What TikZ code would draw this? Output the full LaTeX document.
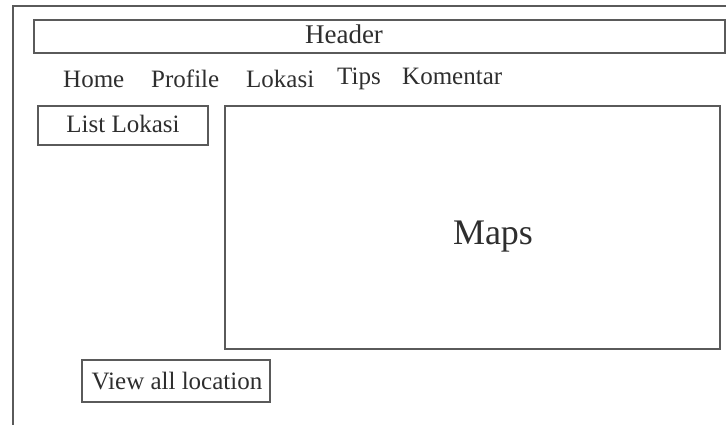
\documentclass[tikz,border=0pt]{standalone}
\usepackage{fontspec}
\setmainfont{Liberation Serif}
\definecolor{frame}{HTML}{5A5A5A}
\definecolor{ink}{HTML}{2E2E2E}
\begin{document}
\begin{tikzpicture}[x=1pt,y=-1pt,
  box/.style={draw=frame,line width=1.4pt,rectangle,inner sep=0pt},
  label/.style={text=ink,inner sep=0pt,font=\fontsize{25}{29}\selectfont},
  navitem/.style={label,anchor=base west}]
\useasboundingbox (0,0) rectangle (726,425);
% page frame (top and left edges)
\coordinate (fl) at (13,425);
\coordinate (ft) at (13,6);
\coordinate (fr) at (726,6);
\draw[draw=frame,line width=1.6pt] (fl) -- (ft) -- (fr);
% header bar
\node[box,minimum width=691pt,minimum height=33pt] (header) at (379.5,36.5) {};
\node[label,anchor=base,font=\fontsize{27}{31}\selectfont] (headertxt) at (344,44) {Header};
% navigation
\node[navitem] (home) at (63,88) {Home};
\node[navitem] (profile) at (151,88) {Profile};
\node[navitem] (lokasi) at (246,88) {Lokasi};
\node[navitem] (tips) at (337,85) {Tips};
\node[navitem] (komentar) at (402,85) {Komentar};
% side list
\node[box,minimum width=170pt,minimum height=39pt] (listbox) at (123,125.5) {};
\node[label,anchor=base] (list) at (123,133) {List Lokasi};
% map area
\node[box,minimum width=495pt,minimum height=243pt] (mapbox) at (472.5,227.5) {};
\node[label,anchor=base,font=\fontsize{36}{42}\selectfont] (maps) at (493,244) {Maps};
% view all button
\node[box,minimum width=188pt,minimum height=42pt] (viewbox) at (176,381) {};
\node[label,anchor=base] (viewall) at (177,389) {View all location};
\end{tikzpicture}
\end{document}
